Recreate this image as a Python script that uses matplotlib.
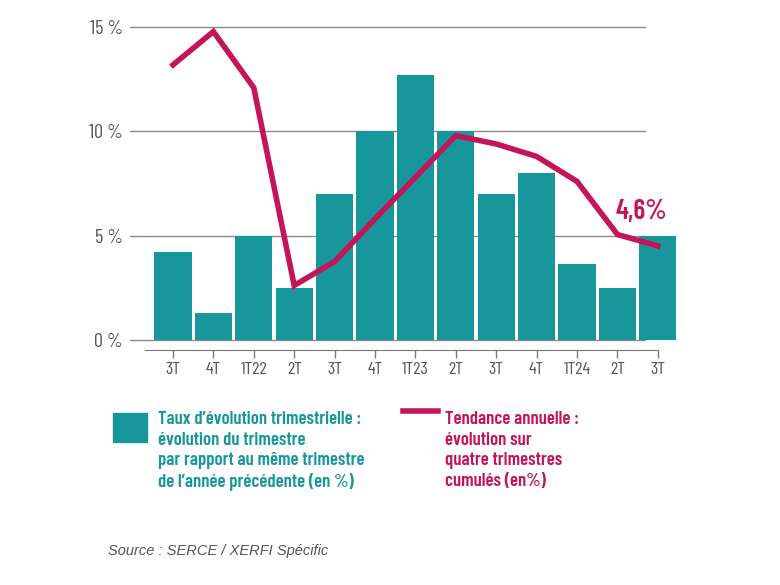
import matplotlib.pyplot as plt
import numpy as np

# Données
trimestres = ["3T", "4T", "1T22", "2T", "3T", "4T", "1T23", "2T", "3T", "4T", "1T24", "2T", "3T"]
evol_trim = [4.2, 1.3, 5.0, 2.5, 7.0, 10.0, 12.7, 10.0, 7.0, 8.0, 3.65, 2.5, 5.0]
tendance = [13.2, 14.8, 12.1, 2.6, 3.75, 5.8, 7.8, 9.8, 9.4, 8.8, 7.6, 5.05, 4.5]
yticks = [0, 5, 10, 15]
ytick_labels = ["0 %", "5 %", "10 %", "15 %"]

TEAL = "#17979c"
MAGENTA = "#c4145a"
FONT = ["Barlow Condensed", "DejaVu Sans"]

plt.rcParams['font.family'] = FONT

W, H = 780, 585
fig = plt.figure(figsize=(7.8, 5.85), dpi=100)

# axes placed in pixel terms: x 130..676, y 17..350
ax = fig.add_axes([130 / W, 1 - 350 / H, 546 / W, 333 / H])
x = np.arange(len(trimestres))

ax.bar(x, evol_trim, width=0.92, color=TEAL, zorder=2)
ax.plot(x, tendance, color=MAGENTA, lw=4, solid_joinstyle="miter", zorder=3)

ax.set_xlim(-1.064, 12.45)
ax.set_ylim(-0.5, 15.5)

# gridlines only over the left part of the axes
for v in yticks:
    ax.axhline(v, xmin=0, xmax=0.943, color="#8a8a8a", lw=1, zorder=1)

ax.set_yticks(yticks)
ax.set_yticklabels(ytick_labels)
ax.tick_params(axis="y", length=0, pad=5, labelsize=14.5, labelcolor="#555555")

ax.set_xticks(x)
ax.set_xticklabels(trimestres)
ax.tick_params(axis="x", direction="out", length=6, width=1, color="#777777",
               labelsize=13, labelcolor="#555555", pad=3)

for side in ["top", "right", "left"]:
    ax.spines[side].set_visible(False)
ax.spines["bottom"].set_color("#777777")
ax.spines["bottom"].set_bounds(-0.69, 12)

ax.text(11.6, 5.55, "4,6%", color=MAGENTA, fontsize=20, fontweight="semibold",
        ha="center", va="bottom")

# légende construite à la main
fig.patches.append(plt.Rectangle((113 / W, 1 - 442 / H), 34 / W, 29 / H,
                                 transform=fig.transFigure, color=TEAL))
fig.text(158 / W, 1 - 411 / H,
         "Taux d\u2019évolution trimestrielle :\névolution du trimestre\n"
         "par rapport au même trimestre\nde l\u2019année précédente (en %)",
         color=TEAL, fontsize=13.5, fontweight="semibold", va="top", ha="left",
         linespacing=1.27)

fig.lines.append(plt.Line2D([403 / W, 438 / W], [1 - 411 / H, 1 - 411 / H],
                            transform=fig.transFigure, color=MAGENTA, lw=4))
fig.text(445 / W, 1 - 411 / H,
         "Tendance annuelle :\névolution sur\nquatre trimestres\ncumulés (en%)",
         color=MAGENTA, fontsize=13.5, fontweight="semibold", va="top", ha="left",
         linespacing=1.27)

fig.text(108 / W, 1 - 551 / H, "Source : SERCE / XERFI Spécific",
         color="#555555", fontsize=10.5, style="italic", va="center", ha="left",
         family=["Liberation Sans", "DejaVu Sans"])

fig.savefig("out.png", dpi=100)
